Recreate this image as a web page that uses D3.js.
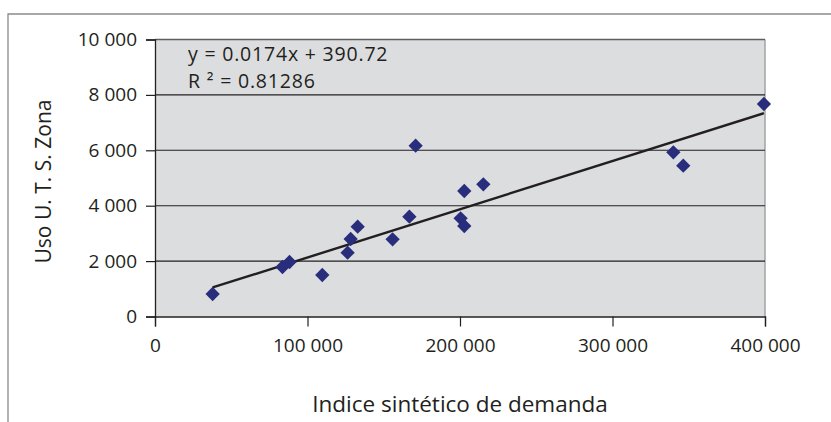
<!DOCTYPE html>
<html>
<head>
<meta charset="utf-8">
<script src="https://cdn.jsdelivr.net/npm/d3@7"></script>
<style>
  html, body { margin: 0; padding: 0; background: #fff; }
  svg { display: block; }
  text { font-family: "Open Sans", "Noto Sans", sans-serif; fill: #231f20; }
</style>
</head>
<body>
<svg id="chart" width="831" height="422"></svg>
<script>
// Synthetic demand index per zone and the corresponding U.T.S. usage
const demandIndex = [37800, 83600, 88200, 109700, 126300, 128300, 132900, 155800, 166800,
                     170900, 200400, 202800, 202800, 215300, 339900, 346400, 399300];
const usoUTS      = [812, 1787, 1967, 1498, 2304, 2798, 3243, 2787, 3603,
                     6166, 3545, 3267, 4531, 4772, 5927, 5444, 7671];

const xTicks = [0, 100000, 200000, 300000, 400000];
const yTicks = [0, 2000, 4000, 6000, 8000, 10000];

// Linear trend fitted to the series
const slope = 0.0174;
const intercept = 390.72;
const rSquared = 0.81286;

const xTitle = "Indice sintético de demanda";
const yTitle = "Uso U. T. S. Zona";

const svg = d3.select("#chart");
const plot = { left: 155, right: 765, top: 39.5, bottom: 316.5 };

const x = d3.scaleLinear().domain([0, 400000]).range([plot.left, plot.right]);
const y = d3.scaleLinear().domain([0, 10000]).range([plot.bottom, plot.top]);

// spaced thousands, e.g. "10 000"
const fmt = v => d3.format(",")(v).replace(/,/g, " ");

// outer frame (top and left edges visible)
svg.append("path")
  .attr("d", "M8,422 V14 H831")
  .attr("fill", "none")
  .attr("stroke", "#8a8a8a")
  .attr("stroke-width", 1.3);

// plot area
svg.append("rect")
  .attr("x", plot.left).attr("y", plot.top)
  .attr("width", plot.right - plot.left).attr("height", plot.bottom - plot.top)
  .attr("fill", "#dcdddf");

// right border of the plot area
svg.append("line")
  .attr("x1", plot.right).attr("x2", plot.right)
  .attr("y1", plot.top).attr("y2", plot.bottom)
  .attr("stroke", "#a3a3a5").attr("stroke-width", 1.5);

// horizontal gridlines
svg.append("g")
  .selectAll("line")
  .data(yTicks.filter(d => d > 0))
  .join("line")
  .attr("x1", plot.left).attr("x2", plot.right)
  .attr("y1", d => y(d)).attr("y2", d => y(d))
  .attr("stroke", d => d === 10000 ? "#5e5e60" : "#231f20")
  .attr("stroke-width", d => d === 10000 ? 1.5 : 1.1);

// y axis
const yAxis = svg.append("g")
  .attr("transform", `translate(${plot.left},0)`)
  .call(d3.axisLeft(y).tickValues(yTicks).tickFormat(fmt).tickSize(9).tickPadding(9));
yAxis.select(".domain").attr("stroke", "#231f20").attr("stroke-width", 1.3);
yAxis.selectAll(".tick line").attr("stroke", "#231f20").attr("stroke-width", 1.2);
yAxis.selectAll(".tick text")
  .attr("font-size", 19)
  .attr("font-family", "'Open Sans', sans-serif")
  .attr("fill", "#231f20");

// x axis
const xAxis = svg.append("g")
  .attr("transform", `translate(0,${plot.bottom})`)
  .call(d3.axisBottom(x).tickValues(xTicks).tickFormat(fmt).tickSize(10).tickPadding(12));
xAxis.select(".domain").attr("stroke", "#231f20").attr("stroke-width", 1.3);
xAxis.selectAll(".tick line").attr("stroke", "#231f20").attr("stroke-width", 1.2);
xAxis.selectAll(".tick text")
  .attr("font-size", 19)
  .attr("font-family", "'Open Sans', sans-serif")
  .attr("fill", "#231f20");

// trend line over the data range
const xExtent = d3.extent(demandIndex);
const trend = xExtent.map(v => [v, slope * v + intercept]);
svg.append("path")
  .datum(trend)
  .attr("d", d3.line().x(d => x(d[0])).y(d => y(d[1])))
  .attr("fill", "none")
  .attr("stroke", "#231f20")
  .attr("stroke-width", 2.4);

// data markers
const points = demandIndex.map((v, i) => ({ x: v, y: usoUTS[i] }));
svg.append("g")
  .selectAll("path")
  .data(points)
  .join("path")
  .attr("transform", d => `translate(${x(d.x)},${y(d.y)})`)
  .attr("d", d3.symbol().type(d3.symbolDiamond2).size(130))
  .attr("fill", "#282d7c");

// equation and R² label
svg.append("text")
  .attr("x", 188).attr("y", 61)
  .attr("font-size", 19.5)
  .attr("letter-spacing", 0.8)
  .text(`y = ${slope}x + ${intercept}`);
svg.append("text")
  .attr("x", 188).attr("y", 88)
  .attr("font-size", 19.5)
  .attr("letter-spacing", 0.8)
  .text(`R ² = ${rSquared}`);

// axis titles
svg.append("text")
  .attr("x", (plot.left + plot.right) / 2).attr("y", 412)
  .attr("text-anchor", "middle")
  .attr("font-size", 22.5)
  .text(xTitle);
svg.append("text")
  .attr("transform", "translate(51,181.5) rotate(-90)")
  .attr("text-anchor", "middle")
  .attr("font-size", 21)
  .text(yTitle);
</script>
</body>
</html>
